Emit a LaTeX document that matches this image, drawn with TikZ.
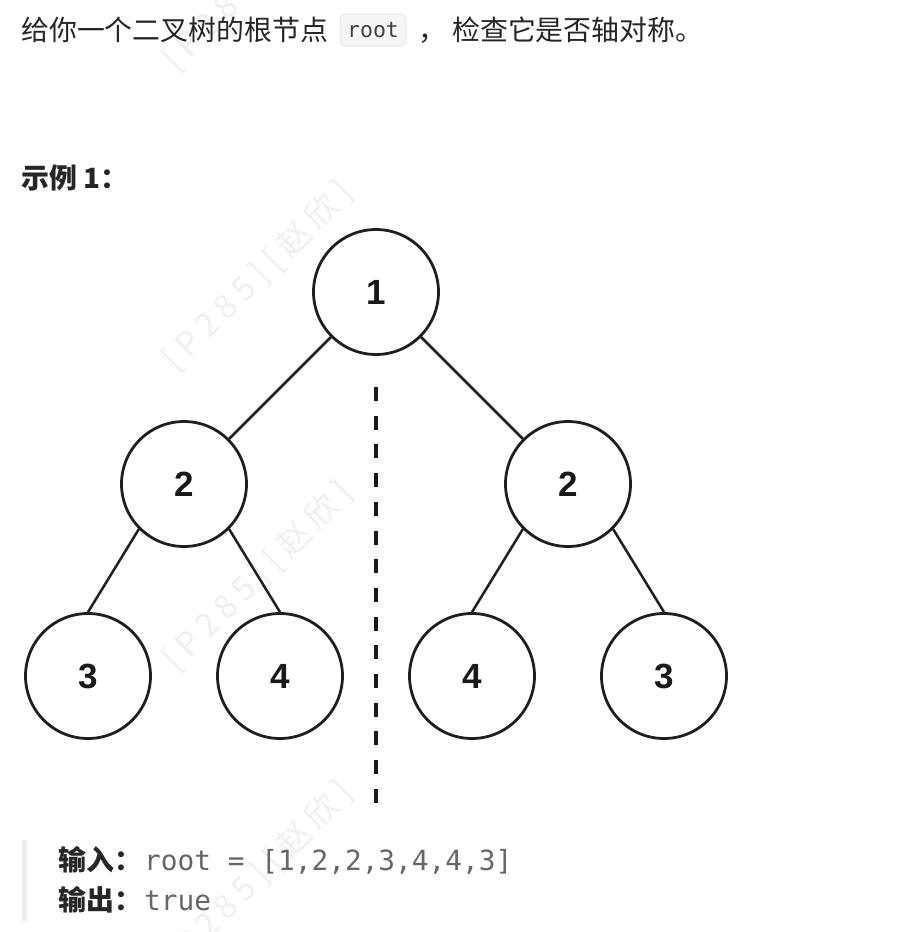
\documentclass[tikz,border=0pt]{standalone}
\usepackage{fontspec}
\setmainfont{Noto Sans CJK SC}
\newfontfamily\monof{DejaVu Sans Mono}
\newfontfamily\numf{Liberation Sans}
\newfontfamily\wmf[LetterSpace=22]{Noto Sans CJK SC}
\begin{document}
\begin{tikzpicture}[x=1pt,y=-1pt,
  tnode/.style={circle, draw=black!88, line width=2.8pt, minimum size=125pt, inner sep=0pt,
    font=\numf\bfseries\fontsize{35}{35}\selectfont, text=black!90},
  edge/.style={line width=2.5pt, draw=black!88},
  axis/.style={line width=4pt, draw=black!90, dash pattern=on 14pt off 14.7pt},
  txt/.style={inner sep=0pt, anchor=base west, font=\fontsize{27.9}{30}\selectfont, text=black!85},
  btxt/.style={txt, font=\fontsize{27.9}{30}\selectfont\bfseries},
  mono/.style={inner sep=0pt, anchor=base west, font=\monof\fontsize{27.8}{30}\selectfont, text=black!60},
  codebox/.style={draw=black!9, fill=black!4, rounded corners=5pt, line width=1pt,
    minimum width=66pt, minimum height=32pt, inner sep=0pt,
    font=\monof\fontsize{21.5}{24}\selectfont, text=black!75},
  wmark/.style={inner sep=0pt, rotate=45, font=\wmf\fontsize{33}{34}\selectfont, text=black!6}
]
\useasboundingbox (0,0) rectangle (908,932);
\fill[white] (0,0) rectangle (908,932);

% watermarks
\node[wmark] (w1) at (258,-24) {[P285][赵欣]};
\node[wmark] (w2) at (258,276) {[P285][赵欣]};
\node[wmark] (w3) at (258,576) {[P285][赵欣]};
\node[wmark] (w4) at (258,876) {[P285][赵欣]};

% heading text
\node[txt] (t1) at (21,40) {给你一个二叉树的根节点};
\node[codebox] (code) at (373,30) {root};
\node[txt] (t2) at (418,40) {，};
\node[txt] (t3) at (452,40) {检查它是否轴对称。};
\node[btxt] (ex) at (21,188) {示例 1：};

% tree
\node[tnode] (r)  at (376,292) {1};
\node[tnode] (a)  at (184,484) {2};
\node[tnode] (b)  at (568,484) {2};
\node[tnode] (aa) at (88,676)  {3};
\node[tnode] (ab) at (280,676) {4};
\node[tnode] (ba) at (472,676) {4};
\node[tnode] (bb) at (664,676) {3};
\draw[edge] (r.225) -- (a.45);
\draw[edge] (r.315) -- (b.135);
\draw[edge] (a.225) -- (aa.north);
\draw[edge] (a.315) -- (ab.north);
\draw[edge] (b.225) -- (ba.north);
\draw[edge] (b.315) -- (bb.north);

% symmetry axis
\coordinate (d1) at (376,387);
\coordinate (d2) at (376,803);
\draw[axis] (d1) -- (d2);

% example block
\fill[black!7] (22,840) rectangle (27,921);
\node[btxt] (in) at (58,870) {输入：};
\node[mono] (inv) at (144,870) {root = [1,2,2,3,4,4,3]};
\node[btxt] (out) at (58,910) {输出：};
\node[mono] (outv) at (144,910) {true};
\end{tikzpicture}
\end{document}
